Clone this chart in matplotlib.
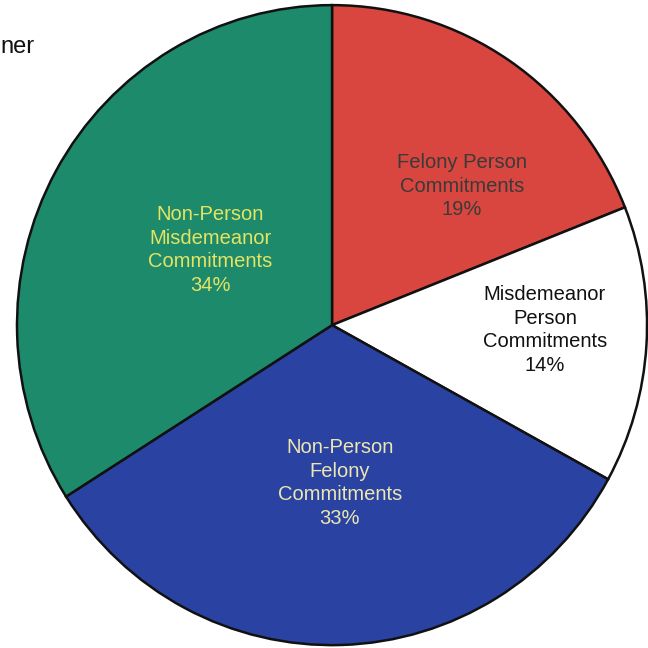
import matplotlib
matplotlib.use("Agg")
import matplotlib.pyplot as plt

categories = ["Felony Person\nCommitments", "Misdemeanor\nPerson\nCommitments",
              "Non-Person\nFelony\nCommitments", "Non-Person\nMisdemeanor\nCommitments"]
values = [19, 14, 33, 34]

colors = ["#d8463f", "#ffffff", "#2a43a3", "#1e8a6c"]
label_colors = ["#3a3a3a", "#111111", "#ece6b0", "#e4e462"]
label_xy = [(0.413, 0.434), (0.676, -0.016), (0.025, -0.494), (-0.387, 0.234)]

fig = plt.figure(figsize=(6.48, 6.48), dpi=100)
ax = fig.add_axes([0, 0, 1, 1])
wedges, _ = ax.pie(values, colors=colors, startangle=90, counterclock=False,
                   radius=1.0, center=(0, 0),
                   wedgeprops=dict(edgecolor="#111111", linewidth=1.8))
ax.set_aspect("auto")
ax.set_xlim(-1.054, 1.003)
ax.set_ylim(-1.009, 1.016)
ax.axis("off")

for cat, v, lc, (x, y) in zip(categories, values, label_colors, label_xy):
    ax.text(x, y, f"{cat}\n{v}%", ha="center", va="center", color=lc,
            fontsize=14.5, family="Liberation Sans", linespacing=1.3)

fig.text(0.0, 0.927, "ner", ha="left", va="center", fontsize=17,
         family="Liberation Sans", color="#111111")

fig.savefig("out.png", dpi=100)
